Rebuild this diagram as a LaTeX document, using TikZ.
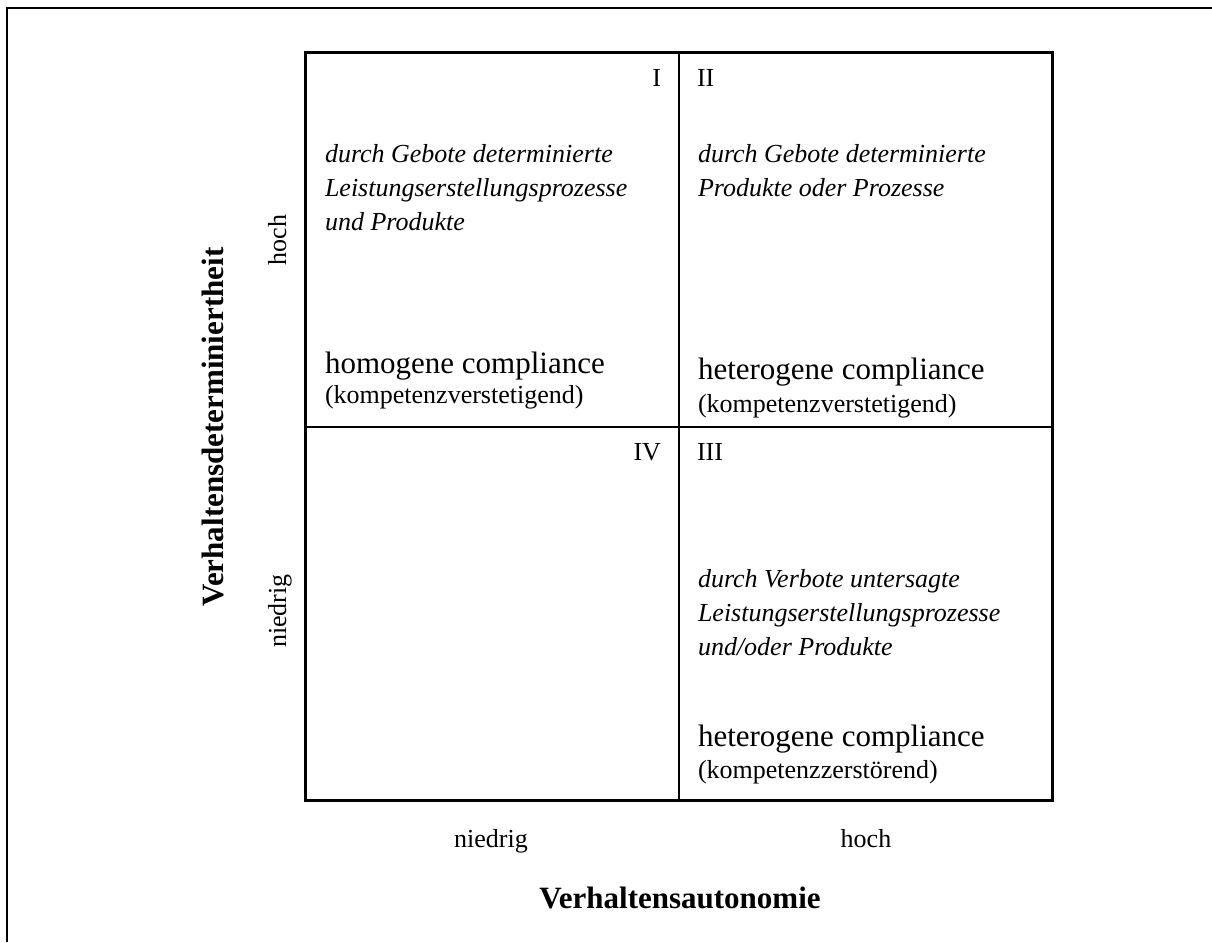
\documentclass[tikz,border=0pt]{standalone}
\usepackage{fontspec}
\setmainfont{Liberation Serif}
\begin{document}
\begin{tikzpicture}[x=1pt,y=-1pt,
  every node/.style={inner sep=0pt, outer sep=0pt},
  txt/.style={font=\fontsize{26}{33}\selectfont},
  note/.style={font=\fontsize{26}{34}\selectfont\itshape, align=left, anchor=base west},
  head/.style={font=\fontsize{31}{36}\selectfont, anchor=base west},
  sub/.style={font=\fontsize{26}{33}\selectfont, anchor=base west},
  axis/.style={font=\fontsize{31}{36}\selectfont\bfseries},
  frameline/.style={line width=1.3pt},
  outerbox/.style={line width=3pt},
  divider/.style={line width=2pt}]
\useasboundingbox (0,0) rectangle (1212,942);

% page frame (top and left edge only)
\draw[frameline] (7,942) -- (7,8) -- (1212,8);

% quadrant grid
\coordinate (nw) at (305,53);
\coordinate (se) at (1052,800);
\coordinate (mt) at (679,53);
\coordinate (mb) at (679,800);
\coordinate (ml) at (305,427);
\coordinate (mr) at (1052,427);
\draw[outerbox] (nw) rectangle (se);
\draw[divider] (mt) -- (mb);
\draw[divider] (ml) -- (mr);

% quadrant numbers
\node[txt, anchor=base east] (q1) at (661,86) {I};
\node[txt, anchor=base west] (q2) at (697,86) {II};
\node[txt, anchor=base east] (q4) at (661,460) {IV};
\node[txt, anchor=base west] (q3) at (697,460) {III};

% quadrant I (multi-line notes are anchored on their last line)
\node[note] (d1) at (325,230) {durch Gebote determinierte\\Leistungserstellungsprozesse\\und Produkte};
\node[head] (h1) at (325,373) {homogene compliance};
\node[sub] (s1) at (325,403) {(kompetenzverstetigend)};

% quadrant II
\node[note] (d2) at (698,196) {durch Gebote determinierte\\Produkte oder Prozesse};
\node[head] (h2) at (698,379) {heterogene compliance};
\node[sub] (s2) at (698,412) {(kompetenzverstetigend)};

% quadrant III
\node[note] (d3) at (698,655) {durch Verbote untersagte\\Leistungserstellungsprozesse\\und/oder Produkte};
\node[head] (h3) at (698,746) {heterogene compliance};
\node[sub] (s3) at (698,778) {(kompetenzzerstörend)};

% vertical axis
\node[txt, rotate=90, anchor=base] (yhi) at (286,240) {hoch};
\node[txt, rotate=90, anchor=base] (ylo) at (286,611) {niedrig};
\node[axis, rotate=90, anchor=base] (ytitle) at (223,427) {Verhaltensdeterminiertheit};

% horizontal axis
\node[txt, anchor=base] (xlo) at (491,847) {niedrig};
\node[txt, anchor=base] (xhi) at (866,847) {hoch};
\node[axis, anchor=base] (xtitle) at (680,908) {Verhaltensautonomie};
\end{tikzpicture}
\end{document}
